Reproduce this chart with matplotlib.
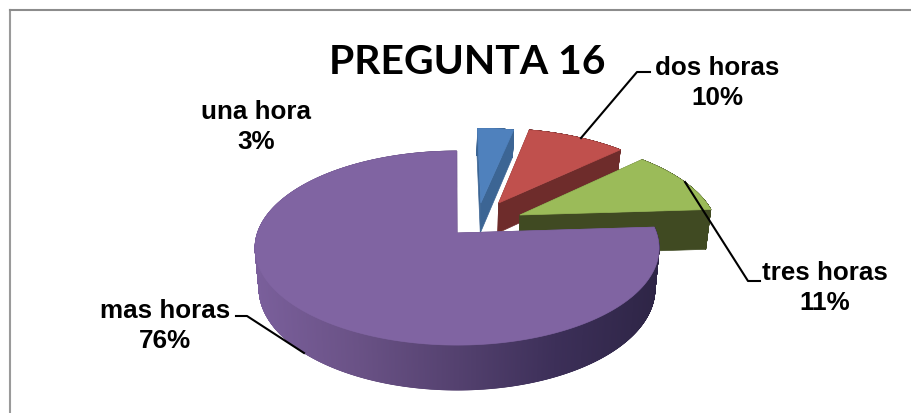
import numpy as np
import matplotlib
matplotlib.use("Agg")
import matplotlib.pyplot as plt
from matplotlib.collections import PolyCollection
from matplotlib.colors import LinearSegmentedColormap
from matplotlib.patches import Polygon

# data of the chart, labels show the rounded percent
categories = ["una hora", "dos horas", "tres horas", "mas horas"]
percent = [3.49, 9.51, 11, 76]
title = "PREGUNTA 16"

# look of each slice
face_colours = ["#4F81BD", "#C0504D", "#9BBB59", "#8064A2"]
wall_colours = ["#3C6594", "#6E2C2B", "#404A22", "#5F4B7A"]
explode = [(0.136, 0.333), (0.23, 0.333), (0.335, 0.196), (0.01, 0.0)]
depths = [31, 31, 41, 40]
label_pos = [(256, 127), (717, 83), (825, 288), (165, 326)]
leaders = [None,
           [(581, 138), (637, 72), (650, 72)],
           [(685, 182), (748, 281), (760, 281)],
           [(304, 353), (247, 316), (236, 316)]]

# perspective of the pie, pixels
X0, Y0 = 455, 233
A, B, K = 199.6, 94.7, 0.155
SHRINK = 0.98


def Project(u, v):
    # disc coordinates to pixels, far side of the disc is squeezed
    w = 1 + K * v
    return X0 + A * u / w, Y0 - B * v / w, w


def Lower(x, y, w, depth):
    # same point on the bottom of the pie
    return X0 + (x - X0) * SHRINK, y + depth / w ** 0.7


def DrawSlice(ax, t0, t1, off, face, wall, depth, gradient=None):
    t = np.linspace(t0, t1, 2000)
    x, y, w = Project(off[0] + np.sin(t), off[1] + np.cos(t))
    xb, yb = Lower(x, y, w, depth)
    ax_, ay, aw = Project(off[0], off[1])
    axb, ayb = Lower(ax_, ay, aw, depth)

    # the two cut sides
    for i in (0, -1):
        pts = [(ax_, ay), (x[i], y[i]), (xb[i], yb[i]), (axb, ayb)]
        ax.add_patch(Polygon(pts, fc=wall, ec=wall, lw=0.5, zorder=2))

    # the rim, one small quad per step so the outline stays smooth
    quads = [[(x[i], y[i]), (x[i + 1], y[i + 1]), (xb[i + 1], yb[i + 1]), (xb[i], yb[i])]
             for i in range(len(t) - 1)]
    rim = PolyCollection(quads, edgecolors="face", linewidths=0.5, zorder=2)
    if gradient is not None:
        rim.set_array((x[:-1] - x.min()) / (x.max() - x.min()))
        rim.set_cmap(gradient)
    else:
        rim.set_facecolor(wall)
    ax.add_collection(rim)

    # the top
    top = np.r_[[(ax_, ay)], np.c_[x, y]]
    ax.add_patch(Polygon(top, fc=face, ec=face, lw=0.5, zorder=2))


fig = plt.figure(figsize=(9.11, 4.13), dpi=100)
ax = fig.add_axes([0, 0, 1, 1])
ax.set_xlim(0, 911)
ax.set_ylim(413, 0)
ax.axis("off")

# chart border
ax.plot([9.5, 9.5], [413, 10], color="#9A9A9A", lw=1.5, zorder=1)
ax.plot([9.5, 911], [10, 10], color="#8C8C8C", lw=1.5, zorder=1)

purple_rim = LinearSegmentedColormap.from_list(
    "rim", ["#7A5F9B", "#6A5286", "#54416F", "#3C2F58", "#2E2546"], N=1024)

edges = np.cumsum([0] + percent) / sum(percent) * 2 * np.pi
for i in range(len(percent)):
    grad = purple_rim if i == 3 else None
    DrawSlice(ax, edges[i], edges[i + 1], explode[i], face_colours[i],
              wall_colours[i], depths[i], grad)

for line in leaders:
    if line:
        ax.plot(*zip(*line), color="black", lw=1.5, zorder=3)

for name, p, pos in zip(categories, percent, label_pos):
    ax.text(pos[0], pos[1], f"{name}\n{p:.0f}%", ha="center", va="center",
            family="Liberation Sans", weight="bold", fontsize=18.7,
            linespacing=1.3, zorder=4)

ax.text(467, 63, title, ha="center", va="center", family="Lato",
        weight="bold", fontsize=29.4, zorder=4)

fig.savefig("out.png", dpi=100)
